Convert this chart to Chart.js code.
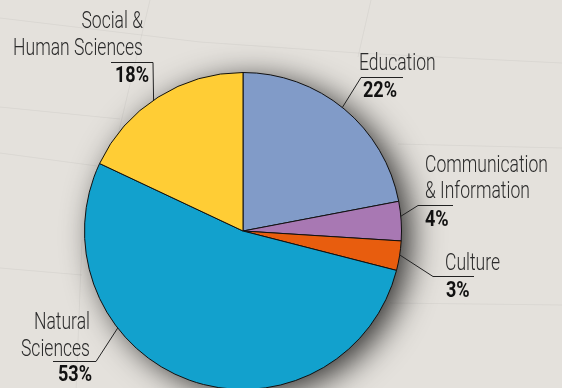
<!DOCTYPE html>
<html>
<head>
<meta charset="utf-8">
<script src="https://cdn.jsdelivr.net/npm/chart.js@4"></script>
<style>
  html, body { margin: 0; padding: 0; background: #e4e1dc; overflow: hidden; }
  #wrap { width: 562px; height: 388px; overflow: hidden; }
</style>
</head>
<body>
<div id="wrap"><canvas id="pie" width="562" height="392"></canvas></div>
<script>
var sectors = ["Education", "Communication & Information", "Culture", "Natural Sciences", "Social & Human Sciences"];
var shares = [22, 4, 3, 53, 18];
var colors = ["#819bc8", "#a878b3", "#e85d0e", "#12a1cd", "#ffcd35"];
// how each sector name is broken over lines in its callout
var nameLines = [["Education"], ["Communication", "& Information"], ["Culture"], ["Natural", "Sciences"], ["Social &", "Human Sciences"]];

// callout placement: text anchor, baselines, underline span, where the leader meets the arc (0..1 along the slice)
var callouts = [
  { align: "left",  x: 359, ys: [70],       pctX: 363, pctY: 97,  line: [361, 403, 77],  at: 0.49 },
  { align: "left",  x: 425, ys: [172, 198], pctX: 425, pctY: 226, line: [418, 453, 205], at: 0.38 },
  { align: "left",  x: 445, ys: [270],      pctX: 446, pctY: 297, line: [433, 474, 276], at: 0.47 },
  { align: "right", x: 90,  ys: [329, 356], pctX: 92,  pctY: 381, line: [53, 96, 361],   at: 0.67 },
  { align: "right", x: 143, ys: [28, 55],   pctX: 149, pctY: 82,  line: [111, 153, 62],  at: 0.47 }
];

function squeezedText(ctx, str, x, y, align, font, sx) {
  ctx.save();
  ctx.translate(x, y);
  ctx.scale(sx, 1);
  ctx.font = font;
  ctx.textAlign = align;
  ctx.textBaseline = "alphabetic";
  ctx.fillText(str, 0, 0);
  ctx.restore();
}

var paper = {
  id: "paper",
  beforeDraw: function (chart) {
    var ctx = chart.ctx;
    ctx.save();
    ctx.fillStyle = "#e4e1dc";
    ctx.fillRect(0, 0, chart.width, chart.height);
    ctx.strokeStyle = "rgba(0,0,0,0.045)";
    ctx.lineWidth = 1;
    var folds = [
      [[0, 18], [200, 42], [358, 53], [562, 63]],
      [[0, 107], [120, 119]],
      [[0, 153], [97, 166]],
      [[150, 0], [118, 135]],
      [[371, 0], [358, 57]],
      [[398, 144], [562, 148]],
      [[390, 303], [562, 305]],
      [[0, 268], [82, 275]],
      [[82, 240], [76, 392]]
    ];
    folds.forEach(function (f) {
      ctx.beginPath();
      ctx.moveTo(f[0][0], f[0][1]);
      for (var i = 1; i < f.length; i++) ctx.lineTo(f[i][0], f[i][1]);
      ctx.stroke();
    });
    ctx.restore();
  }
};

var dropShadow = {
  id: "dropShadow",
  beforeDatasetsDraw: function (chart) {
    var arc = chart.getDatasetMeta(0).data[0];
    if (!arc) return;
    var ctx = chart.ctx;
    ctx.save();
    ctx.shadowColor = "rgba(0,0,0,0.8)";
    ctx.shadowBlur = 32;
    ctx.shadowOffsetX = 10;
    ctx.shadowOffsetY = 6;
    ctx.fillStyle = "#333";
    ctx.beginPath();
    ctx.arc(arc.x, arc.y, arc.outerRadius - 1, 0, Math.PI * 2);
    ctx.fill();
    ctx.restore();
  }
};

var calloutLabels = {
  id: "calloutLabels",
  afterDatasetsDraw: function (chart) {
    var ctx = chart.ctx;
    var arcs = chart.getDatasetMeta(0).data;
    ctx.save();
    callouts.forEach(function (c, i) {
      var a = arcs[i];
      var ang = a.startAngle + c.at * (a.endAngle - a.startAngle);
      var px = a.x + Math.cos(ang) * a.outerRadius;
      var py = a.y + Math.sin(ang) * a.outerRadius;
      var x1 = c.line[0], x2 = c.line[1], ly = c.line[2];
      var joint = c.align === "left" ? x1 : x2;

      ctx.strokeStyle = "#222";
      ctx.lineWidth = 1;
      ctx.beginPath();
      ctx.moveTo(c.align === "left" ? x2 : x1, ly + 0.5);
      ctx.lineTo(joint, ly + 0.5);
      ctx.lineTo(px, py);
      ctx.stroke();

      ctx.fillStyle = "#2a2a2a";
      nameLines[i].forEach(function (t, k) {
        squeezedText(ctx, t, c.x, c.ys[k], c.align, "300 24px Roboto", 0.73);
      });
      ctx.fillStyle = "#111";
      squeezedText(ctx, shares[i] + "%", c.pctX, c.pctY, c.align, "bold 22px Roboto", 0.82);
    });
    ctx.restore();
  }
};

new Chart(document.getElementById("pie"), {
  type: "pie",
  data: {
    labels: sectors,
    datasets: [{
      data: shares,
      backgroundColor: colors,
      borderColor: "#111",
      borderWidth: 1
    }]
  },
  options: {
    responsive: false,
    animation: false,
    layout: { padding: { left: 84, right: 160, top: 72, bottom: 2 } },
    plugins: { legend: { display: false }, tooltip: { enabled: false } }
  },
  plugins: [paper, dropShadow, calloutLabels]
});
</script>
</body>
</html>
